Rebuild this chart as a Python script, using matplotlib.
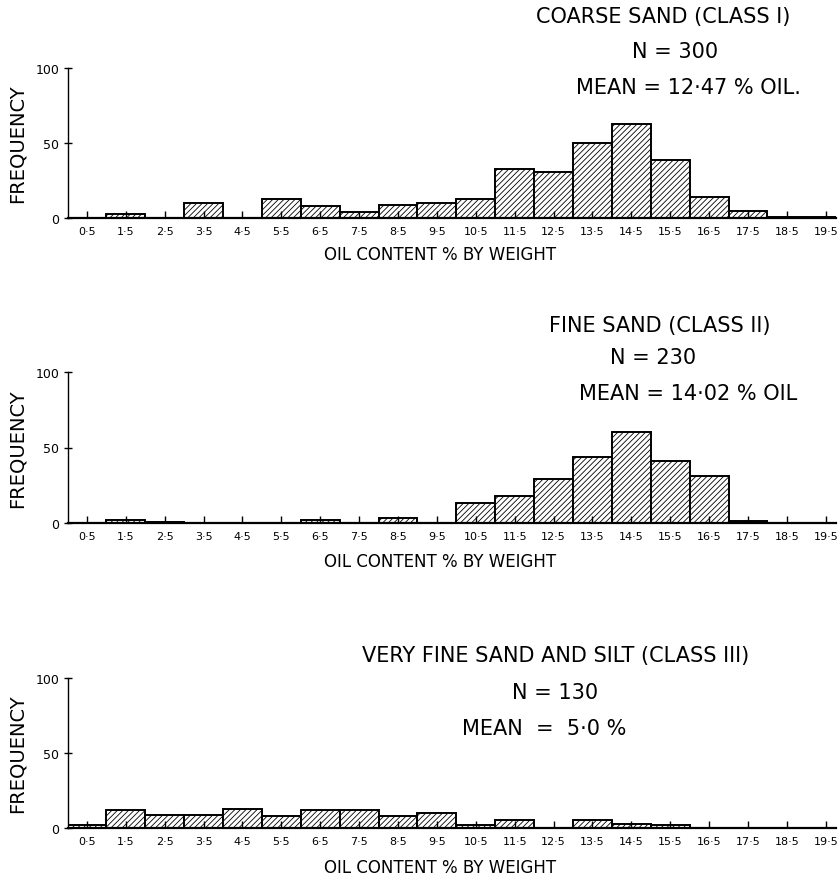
import numpy as np
import matplotlib
matplotlib.use("Agg")
import matplotlib.pyplot as plt

plt.rcParams["font.family"] = ["DejaVu Sans"]
plt.rcParams["hatch.linewidth"] = 0.6

# oil content classes (bin centres), % by weight
bin_centres = [0.5, 1.5, 2.5, 3.5, 4.5, 5.5, 6.5, 7.5, 8.5, 9.5,
               10.5, 11.5, 12.5, 13.5, 14.5, 15.5, 16.5, 17.5, 18.5, 19.5]
tick_labels = ["0·5", "1·5", "2·5", "3·5", "4·5", "5·5", "6·5", "7·5", "8·5", "9·5",
               "10·5", "11·5", "12·5", "13·5", "14·5", "15·5", "16·5", "17·5", "18·5", "19·5"]

coarse_freq = [0, 3, 0, 10, 0, 13, 8, 4, 9, 10,
               13, 33, 31, 50, 63, 39, 14, 5, 1, 1]
fine_freq = [0, 2, 0.5, 0, 0, 0, 2, 0, 3, 0,
             13, 18, 29, 44, 60, 41, 31, 1, 0, 0]
silt_freq = [2, 12, 9, 9, 13, 8, 12, 12, 8, 10,
             2, 5.5, 0, 5.5, 3, 2, 0, 0, 0, 0]

titles = ["COARSE SAND (CLASS I)", "FINE SAND (CLASS II)", "VERY FINE SAND AND SILT (CLASS III)"]
n_labels = ["N = 300", "N = 230", "N = 130"]
mean_labels = ["MEAN = 12·47 % OIL.", "MEAN = 14·02 % OIL", "MEAN  =  5·0 %"]

W, H = 840, 879
fig = plt.figure(figsize=(W / 100, H / 100), dpi=100)

def px(x, y):
    return x / W, 1 - y / H

# (y of 100, y of 0) in pixels
axes_px = [(69, 219), (373, 524), (679, 829)]
# text centres in pixels: title, N, mean
text_px = [
    [(663, 17), (675, 52), (688, 88)],
    [(660, 326), (653, 358), (688, 394)],
    [(556, 656), (555, 693), (544, 729)],
]
xlabel_y = [255, 562, 868]

for i, freq in enumerate([coarse_freq, fine_freq, silt_freq]):
    top, bot = axes_px[i]
    left = 67.5
    ax = fig.add_axes([left / W, 1 - bot / H, 768 / W, (bot - top) / H])
    heights = np.array(freq, dtype=float)
    mask = heights > 0
    ax.bar(np.array(bin_centres)[mask], heights[mask], width=1.0,
           facecolor="white", edgecolor="black", linewidth=1.4, hatch="//////")
    ax.set_xlim(0, 19.75)
    ax.set_ylim(0, 100)
    ax.spines["top"].set_visible(False)
    ax.spines["right"].set_visible(False)
    ax.spines["left"].set_linewidth(1.0)
    ax.spines["bottom"].set_linewidth(1.6)
    ax.set_xticks(bin_centres)
    ax.set_xticklabels(tick_labels, fontsize=8)
    ax.tick_params(axis="x", direction="in", length=5, width=1.0, pad=6)
    ax.set_yticks([0, 50, 100])
    ax.set_yticklabels(["0", "50", "100"], fontsize=9)
    ax.tick_params(axis="y", direction="inout", length=6, width=1.0, pad=3)

    fig.text(*px(17, (top + bot) / 2), "FREQUENCY", rotation=90,
             ha="center", va="center", fontsize=14)
    fig.text(*px(440, xlabel_y[i]), "OIL CONTENT % BY WEIGHT",
             ha="center", va="center", fontsize=12)
    for txt, (cx, cy) in zip([titles[i], n_labels[i], mean_labels[i]], text_px[i]):
        fig.text(*px(cx, cy), txt, ha="center", va="center", fontsize=15)

fig.savefig("out.png", dpi=100)
